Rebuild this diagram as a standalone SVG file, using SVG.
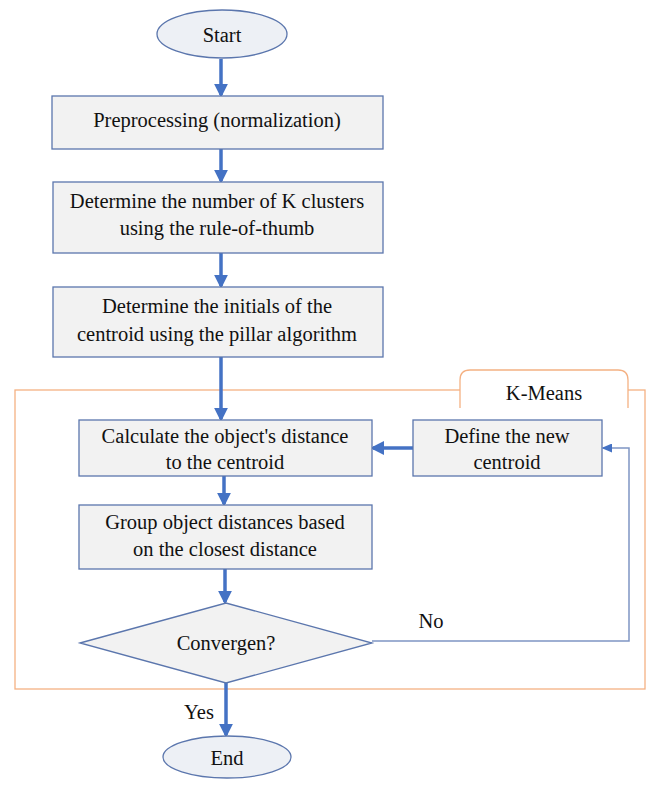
<svg xmlns="http://www.w3.org/2000/svg" width="651" height="785" viewBox="0 0 651 785">
<style>
.box{fill:#f2f2f2;stroke:#5b76ad;stroke-width:1.3}
.term{fill:#edf0f5;stroke:#5b76ad;stroke-width:1.3}
.t{font-family:"Liberation Serif","Times New Roman","DejaVu Serif",serif;font-size:20.5px;fill:#111;text-anchor:middle;dominant-baseline:central}
.arr{stroke:#4472c4;stroke-width:3.5;fill:none}
.thin{stroke:#7f95c4;stroke-width:1.5;fill:none}
.frame{fill:none;stroke:#f4b183;stroke-width:1.3}
</style>
<defs>
<marker id="ah" markerWidth="4" markerHeight="4" refX="3.2" refY="2" orient="auto" markerUnits="strokeWidth">
<path d="M0,0 L4,2 L0,4 Z" fill="#4472c4"/>
</marker>
<marker id="ahs" markerWidth="7" markerHeight="6" refX="6" refY="3" orient="auto" markerUnits="strokeWidth">
<path d="M0,0 L7,3 L0,6 Z" fill="#4472c4"/>
</marker>
</defs>
<rect width="651" height="785" fill="#fff"/>
<g id="kmeans-frame">
<rect class="frame" x="15" y="390" width="630" height="299"/>
<path d="M460,408 L460,380 Q460,370 470,370 L618,370 Q628,370 628,380 L628,408" fill="#fff" stroke="#f4b183" stroke-width="1.3"/>
<text class="t" x="544" y="393">K-Means</text>
</g>
<g id="connectors">
<line class="arr" x1="221" y1="59" x2="221" y2="95" marker-end="url(#ah)"/>
<line class="arr" x1="221" y1="149" x2="221" y2="181" marker-end="url(#ah)"/>
<line class="arr" x1="221" y1="253" x2="221" y2="286" marker-end="url(#ah)"/>
<line class="arr" x1="221" y1="357" x2="221" y2="419" marker-end="url(#ah)"/>
<line class="arr" x1="413" y1="448" x2="373" y2="448" marker-end="url(#ah)"/>
<line class="arr" x1="224" y1="476" x2="224" y2="504" marker-end="url(#ah)"/>
<line class="arr" x1="225" y1="569" x2="225" y2="602" marker-end="url(#ah)"/>
<polyline class="thin" points="372,641 629,641 629,448 603,448" marker-end="url(#ahs)"/>
<line class="arr" x1="226" y1="683" x2="226" y2="735" marker-end="url(#ah)"/>
<text class="t" x="431" y="621">No</text>
<text class="t" x="199" y="712">Yes</text>
</g>
<g id="start">
<ellipse class="term" cx="222" cy="34" rx="65" ry="24"/>
<text class="t" x="222" y="35">Start</text>
</g>
<g id="preprocessing">
<rect class="box" x="52" y="96" width="331" height="53"/>
<text class="t" x="217" y="120">Preprocessing (normalization)</text>
</g>
<g id="determine-k">
<rect class="box" x="53" y="182" width="330" height="71"/>
<text class="t" x="217" y="201">Determine the number of K clusters</text>
<text class="t" x="217" y="228">using the rule-of-thumb</text>
</g>
<g id="determine-initials">
<rect class="box" x="53" y="287" width="330" height="70"/>
<text class="t" x="217" y="306">Determine the initials of the</text>
<text class="t" x="217" y="334">centroid using the pillar algorithm</text>
</g>
<g id="calculate">
<rect class="box" x="79" y="420" width="293" height="56"/>
<text class="t" x="225" y="436">Calculate the object's distance</text>
<text class="t" x="225" y="462">to the centroid</text>
</g>
<g id="define">
<rect class="box" x="413" y="420" width="189" height="56"/>
<text class="t" x="507" y="436">Define the new</text>
<text class="t" x="507" y="462">centroid</text>
</g>
<g id="group">
<rect class="box" x="79" y="505" width="293" height="64"/>
<text class="t" x="225" y="522">Group object distances based</text>
<text class="t" x="225" y="549">on the closest distance</text>
</g>
<g id="convergen">
<polygon class="box" points="80,643 226,603 372,643 226,683"/>
<text class="t" x="226" y="643">Convergen?</text>
</g>
<g id="end">
<ellipse class="term" cx="227" cy="757" rx="64" ry="21"/>
<text class="t" x="227" y="758">End</text>
</g>
</svg>
